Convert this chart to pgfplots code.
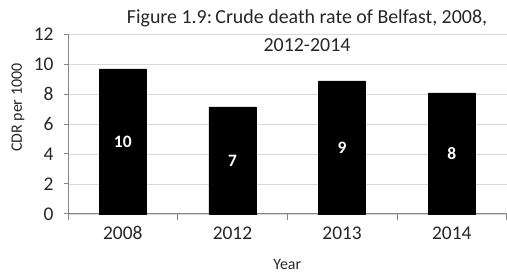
\documentclass[border=0pt]{standalone}
\usepackage{pgfplots}
\pgfplotsset{compat=1.18}
\usepackage{fontspec}
\setmainfont{Carlito}
\definecolor{axgray}{HTML}{868686}
\definecolor{gridgray}{HTML}{D9D9D9}
\definecolor{txt}{HTML}{262626}
\begin{document}
\begin{tikzpicture}
\begin{axis}[
  name=ax,
  at={(0,0)}, anchor=south west,
  scale only axis,
  width=439bp, height=180bp,
  xmin=-0.5, xmax=3.5,
  ymin=0, ymax=12,
  ytick={0,2,4,6,8,10,12},
  xtick={0,1,2,3},
  xticklabels={2008,2012,2013,2014},
  minor xtick={-0.5,0.5,1.5,2.5,3.5},
  axis x line*=bottom,
  axis y line*=left,
  axis line style={axgray, line width=0.8pt},
  major x tick style={draw=none},
  minor x tick style={axgray, line width=0.8pt},
  major y tick style={axgray, line width=0.8pt},
  tick align=outside,
  major tick length=4bp,
  minor tick length=6bp,
  ymajorgrids,
  grid style={gridgray, line width=0.6pt},
  /pgf/number format/assume math mode=true,
  tick label style={font=\fontsize{19.5}{21}\selectfont, text=txt},
  yticklabel style={xshift=-7bp},
  xticklabel style={yshift=-5bp, text height=13bp, text depth=0bp},
  xlabel={Year},
  ylabel={CDR per 1000},
  label style={font=\fontsize{16}{18}\selectfont, text=txt},
  xlabel style={at={(axis description cs:0.5,-0.283)}, anchor=center},
  ylabel style={at={(axis description cs:-0.114,0.59)}, anchor=center},
  clip=false,
]
\addplot[
  ybar, bar width=47bp, fill=black, draw=black,
  point meta=y,
  visualization depends on={0.5*y \as \half},
  nodes near coords={\pgfmathprintnumber[fixed,precision=0]{\pgfplotspointmeta}},
  every node near coord/.append style={
    anchor=center, text=white,
    font=\bfseries\fontsize{17.5}{19}\selectfont,
    shift={(axis direction cs:0,-\half)}},
] coordinates {(0,9.67) (1,7.13) (2,8.87) (3,8.07)};
\node[align=center, font=\fontsize{20}{28}\selectfont, text=txt]
  at (rel axis cs:0.545,1.017) {Figure 1.9:\,Crude death rate of Belfast, 2008,\\2012-2014};
\end{axis}
\path (ax.south west) ++(-68bp,-61bp) rectangle ++(507bp,275bp);
\end{tikzpicture}
\end{document}
